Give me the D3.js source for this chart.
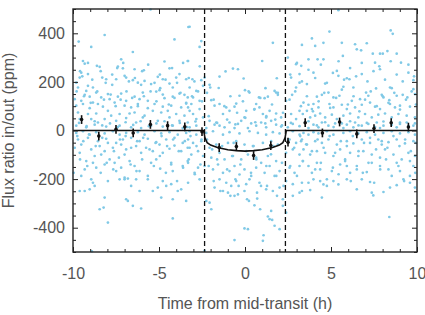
<!DOCTYPE html>
<html>
<head>
<meta charset="utf-8">
<script src="https://cdn.jsdelivr.net/npm/d3@7"></script>
<style>
  body { margin: 0; background: #fff; }
  text { font-family: "Liberation Sans", Arial, sans-serif; }
</style>
</head>
<body>
<div id="chart"></div>
<script>
// individual measurements: [time from mid-transit (h), flux ratio (ppm)]
const scatter = [
  [-5.49,498],[-3.29,426],[-8.16,393],[-9.67,366],[-4.10,375],[-8.94,344],[-6.52,323],[-9.42,286],[-7.20,293],[-4.68,284],
  [-3.33,286],[-9.32,275],[-8.61,266],[-8.45,262],[-7.39,263],[-7.10,256],[-6.42,252],[-5.88,248],[-4.39,256],[-9.52,238],
  [-9.13,232],[-9.61,218],[-7.00,225],[-3.81,232],[-5.07,221],[-8.30,218],[-8.07,211],[-7.49,211],[-6.91,218],[-6.52,207],
  [-6.23,197],[-5.84,204],[-4.78,211],[-4.00,218],[-3.42,211],[-9.81,197],[-9.71,177],[-9.13,184],[-8.84,177],[-7.72,188],
  [-6.04,188],[-5.46,191],[-4.93,174],[-4.39,193],[-4.20,177],[-9.23,163],[-9.32,147],[-9.03,139],[-8.65,156],[-7.97,150],
  [-7.20,152],[-6.42,139],[-5.94,156],[-5.16,160],[-4.97,166],[-3.81,152],[-3.52,147],[-9.90,129],[-9.52,122],[-8.84,115],
  [-8.36,136],[-8.55,109],[-7.87,129],[-7.58,115],[-7.39,139],[-6.91,122],[-6.13,129],[-5.65,122],[-4.68,133],[-4.20,139],
  [-3.33,136],[-9.81,102],[-9.42,109],[-9.03,92],[-8.26,98],[-7.97,81],[-7.00,102],[-6.62,95],[-6.23,109],[-5.65,92],
  [-5.26,109],[-4.78,98],[-4.29,102],[-3.71,95],[-3.42,111],[-9.71,74],[-9.13,68],[-8.65,70],[-7.78,61],[-7.29,68],
  [-6.71,70],[-6.42,74],[-5.84,61],[-5.36,81],[-4.87,74],[-4.49,81],[-4.00,68],[-3.52,61],[-9.61,47],[-8.94,47],
  [-8.55,33],[-8.16,47],[-7.49,40],[-6.91,51],[-6.33,33],[-5.94,54],[-5.07,40],[-4.39,54],[-3.81,40],[-3.33,33],
  [-9.81,20],[-9.23,13],[-8.74,24],[-8.07,16],[-7.29,20],[-6.62,13],[-6.04,10],[-5.46,20],[-4.78,16],[-4.20,20],[-3.62,10],
  [-3.22,427],[-2.54,368],[-2.64,344],[1.62,361],[1.00,286],[-3.31,286],[-0.70,255],[-0.41,252],[-1.13,243],[-1.48,222],
  [-0.08,214],[-3.06,211],[-2.54,207],[-2.35,218],[1.85,215],[2.49,300],[2.97,273],[3.17,232],[2.68,218],[-3.22,177],
  [-2.83,163],[-2.44,184],[-2.06,188],[-2.02,177],[1.19,174],[0.00,166],[0.26,156],[-0.32,143],[0.81,136],[1.14,133],
  [1.33,139],[1.72,163],[1.91,147],[1.81,156],[-3.02,136],[-2.64,122],[-3.12,109],[-3.31,95],[-1.96,125],[-1.48,109],
  [-1.77,102],[-0.51,111],[-0.61,98],[0.65,109],[0.55,88],[0.84,95],[2.39,122],[2.74,147],[2.97,177],[3.17,197],
  [-1.09,95],[-0.90,81],[-1.28,68],[0.07,81],[-0.03,54],[1.04,68],[1.23,54],[1.43,81],[1.81,70],[2.10,54],
  [-3.02,68],[-2.83,47],[-3.22,81],[-2.64,88],[-2.44,54],[-2.06,40],[-1.67,33],[-1.48,20],[-1.77,24],[-0.90,33],
  [-0.41,27],[-0.22,40],[0.36,29],[0.65,20],[0.94,33],[1.52,40],[1.81,24],[2.10,16],[2.68,68],[2.97,47],
  [3.17,81],[2.78,27],[2.49,13],[-3.22,13],[-2.83,20],[-2.25,10],[-1.19,13],[-0.61,10],[0.17,10],[1.23,13],
  [5.43,495],[8.47,412],[8.59,398],[4.91,407],[3.89,379],[4.56,361],[5.63,361],[6.40,355],[7.08,359],[3.31,352],
  [4.08,348],[6.50,334],[6.75,330],[5.69,307],[7.43,316],[7.85,316],[8.01,316],[8.28,327],[8.82,316],[3.69,293],
  [4.22,293],[4.56,293],[7.56,279],[9.07,279],[3.27,266],[3.98,238],[5.34,245],[5.43,225],[5.92,215],[6.07,211],
  [6.79,232],[7.85,252],[9.50,238],[3.60,191],[4.66,193],[5.72,180],[7.62,173],[8.43,177],[8.53,174],[9.79,207],
  [9.79,170],[6.30,177],[7.04,156],[7.17,143],[6.69,129],[6.21,122],[4.18,139],[4.47,147],[4.85,156],[5.14,136],
  [5.49,143],[7.95,147],[8.05,136],[8.39,125],[8.82,143],[9.17,147],[9.44,136],[9.88,150],[3.40,115],[3.69,106],
  [3.98,109],[3.89,88],[4.27,95],[3.60,81],[4.91,109],[5.14,95],[5.63,106],[5.92,88],[6.40,95],[6.79,106],
  [7.27,115],[7.56,98],[7.85,88],[8.43,109],[8.72,95],[9.01,102],[9.59,98],[3.36,68],[3.79,54],[4.08,61],
  [4.37,70],[4.66,54],[5.05,65],[5.34,47],[5.72,61],[6.11,70],[6.59,54],[6.98,68],[7.37,54],[7.75,65],
  [8.14,70],[8.53,54],[8.92,68],[9.40,61],[9.88,54],[3.50,33],[3.98,24],[4.47,33],[4.85,20],[5.24,29],
  [5.92,24],[6.40,33],[6.79,20],[7.17,27],[7.66,33],[8.05,20],[9.01,27],[9.40,33],[9.79,20],[3.69,10],
  [4.27,13],[5.72,10],[6.30,13],[7.85,10],[8.82,13],
  [-9.81,-10],[-9.42,-3],[-9.03,-17],[-8.65,-7],[-8.16,-12],[-7.68,-3],[-7.29,-17],[-6.91,-10],[-6.23,-7],[-5.84,-17],
  [-5.26,-3],[-4.87,-12],[-4.39,-7],[-3.91,-17],[-3.42,-10],[-9.71,-37],[-9.13,-30],[-8.55,-44],[-8.07,-34],[-7.49,-51],
  [-7.10,-37],[-6.62,-30],[-6.13,-44],[-5.65,-34],[-5.16,-48],[-4.58,-37],[-4.10,-30],[-3.62,-51],[-9.90,-71],[-9.52,-58],
  [-9.61,-92],[-8.94,-78],[-8.45,-64],[-8.16,-85],[-8.36,-99],[-7.68,-71],[-7.20,-58],[-6.91,-78],[-7.00,-99],[-6.33,-64],
  [-6.04,-92],[-5.75,-71],[-5.36,-85],[-4.97,-58],[-4.78,-92],[-4.39,-75],[-4.10,-62],[-3.71,-85],[-3.33,-71],[-9.23,-126],
  [-9.32,-160],[-8.84,-133],[-8.65,-153],[-8.16,-140],[-7.87,-119],[-7.58,-133],[-7.49,-167],[-7.20,-153],[-6.71,-126],[-6.42,-146],
  [-6.13,-167],[-5.46,-133],[-5.16,-119],[-4.93,-157],[-4.29,-140],[-4.20,-167],[-3.62,-146],[-3.33,-126],[-9.96,-174],[-9.52,-187],
  [-8.94,-201],[-9.61,-249],[-9.32,-249],[-9.03,-242],[-8.74,-228],[-7.97,-208],[-7.29,-201],[-7.00,-194],[-6.81,-198],[-6.62,-228],
  [-6.33,-201],[-5.65,-201],[-5.36,-249],[-5.07,-235],[-4.78,-208],[-4.58,-228],[-4.29,-221],[-3.91,-249],[-3.71,-242],[-8.84,-215],
  [-8.16,-276],[-6.91,-283],[-6.81,-290],[-6.52,-310],[-6.13,-249],[-4.87,-276],[-4.20,-283],[-3.42,-290],[-8.45,-324],[-8.22,-317],
  [-6.04,-321],[-7.97,-379],[-4.20,-362],[-8.90,-497],
  [-3.22,-3],[-2.83,-17],[-2.25,-10],[-1.86,-3],[-1.28,-17],[-0.90,-7],[-0.32,-12],[0.26,-3],[0.75,-10],[1.23,-17],
  [1.62,-7],[2.01,-12],[2.78,-3],[3.17,-17],[-3.31,-37],[-3.02,-51],[-2.54,-44],[-2.06,-71],[-1.67,-58],[-0.99,-51],
  [-0.51,-44],[-0.03,-58],[0.46,-64],[1.04,-51],[1.52,-44],[1.91,-58],[2.59,-37],[2.97,-51],[3.26,-44],[-3.22,-71],
  [-2.73,-85],[-3.12,-99],[-2.44,-105],[-1.96,-112],[-1.48,-92],[-1.19,-119],[-0.70,-105],[-0.22,-119],[0.17,-99],[0.65,-112],
  [0.94,-133],[1.33,-105],[1.81,-126],[2.39,-92],[2.78,-78],[3.17,-99],[-3.31,-133],[-2.73,-153],[-2.93,-174],[-2.35,-146],
  [-1.86,-160],[-1.57,-140],[-1.28,-174],[-0.90,-167],[-0.61,-146],[-0.32,-181],[-0.03,-160],[0.36,-187],[0.65,-153],[1.14,-174],
  [1.43,-146],[1.72,-187],[2.01,-167],[2.59,-153],[2.88,-174],[3.17,-146],[-1.48,-201],[-1.09,-215],[-1.77,-235],[-0.80,-228],
  [-0.51,-208],[0.07,-221],[0.26,-201],[0.84,-215],[1.23,-242],[2.01,-235],[2.39,-208],[2.78,-221],[-3.31,-215],[-2.64,-201],
  [-1.28,-249],[-0.99,-256],[-0.61,-269],[-0.03,-249],[-0.41,-263],[-2.06,-297],[-1.96,-324],[-2.25,-290],[0.23,-290],[0.71,-280],
  [0.88,-324],[0.55,-308],[1.62,-249],[2.20,-283],[2.78,-269],[3.17,-256],[1.33,-354],[1.43,-365],[1.58,-368],[1.52,-331],
  [2.39,-338],[1.72,-392],[2.01,-406],[2.20,-310],[-0.03,-403],[0.17,-406],[1.08,-431],[1.04,-454],[-0.61,-451],[-2.35,-495],
  [3.40,-10],[3.69,-17],[3.98,-7],[4.27,-12],[4.76,-3],[5.14,-17],[5.72,-10],[6.11,-3],[6.59,-12],[7.08,-7],
  [7.56,-17],[8.05,-10],[8.53,-3],[9.01,-12],[9.50,-7],[9.88,-17],[3.31,-37],[3.60,-58],[4.08,-44],[4.47,-51],
  [4.85,-37],[5.34,-58],[5.92,-44],[6.30,-53],[6.79,-37],[7.27,-51],[7.75,-37],[7.95,-58],[8.34,-48],[8.82,-37],
  [9.30,-53],[9.79,-44],[3.40,-78],[3.79,-99],[4.18,-85],[4.66,-92],[5.14,-105],[5.53,-78],[5.82,-119],[6.11,-92],
  [6.59,-105],[6.88,-85],[7.37,-99],[7.85,-112],[8.14,-78],[8.63,-99],[9.11,-119],[9.50,-92],[9.88,-105],[3.36,-126],
  [3.69,-146],[4.18,-133],[3.89,-174],[4.37,-160],[5.05,-167],[5.53,-140],[5.92,-146],[6.11,-174],[6.50,-160],[7.08,-171],
  [7.37,-133],[7.85,-146],[8.34,-160],[8.82,-133],[9.01,-167],[9.59,-187],[9.79,-146],[3.31,-215],[3.98,-201],[4.37,-208],
  [4.56,-222],[4.76,-228],[5.14,-208],[5.43,-222],[5.92,-201],[6.50,-242],[6.79,-201],[7.27,-212],[7.37,-256],[8.05,-253],
  [8.43,-235],[8.82,-225],[9.21,-201],[9.59,-215],[9.88,-235],[3.31,-249],[3.79,-245],[4.47,-276],[7.46,-267],[8.39,-356],
  // second pass, read from the full view
  [-9.59,244],[-9.46,223],[-9.13,278],[-8.88,209],[-8.39,244],[-8.10,196],[-7.72,230],[-7.43,257],[-7.08,278],[-6.75,202],
  [-6.40,216],[-5.98,244],[-5.63,271],[-5.26,196],[-4.95,230],[-4.62,209],[-4.24,257],[-3.95,196],[-3.60,278],[-3.27,216],
  [-2.94,202],[-2.63,264],
  [-9.79,161],[-9.36,141],[-8.97,114],[-8.59,161],[-8.20,127],[-7.81,148],[-7.52,100],[-7.23,127],[-6.89,161],[-6.56,134],
  [-6.23,100],[-5.88,141],[-5.49,161],[-5.15,120],[-4.78,148],[-4.43,107],[-4.10,134],[-3.75,155],[-3.42,114],[-3.08,141],
  [-2.73,161],[-2.50,120],
  [-9.65,31],[-9.21,18],[-8.74,38],[-8.30,21],[-7.85,29],[-7.39,14],[-6.94,34],[-6.50,23],[-6.07,38],[-5.59,18],
  [-5.15,29],[-4.68,38],[-4.24,21],[-3.79,31],[-3.37,14],[-2.88,37],
  [-9.75,-23],[-9.40,-44],[-9.07,-16],[-8.68,-64],[-8.30,-30],[-7.97,-51],[-7.62,-85],[-7.27,-37],[-6.94,-23],[-6.62,-71],
  [-6.27,-44],[-5.92,-30],[-5.55,-78],[-5.20,-51],[-4.85,-23],[-4.53,-64],[-4.18,-37],[-3.85,-85],[-3.50,-44],[-3.17,-23],
  [-2.82,-64],[-2.53,-37],
  [-9.59,-119],[-9.17,-146],[-8.74,-105],[-8.39,-174],[-8.04,-133],[-7.66,-160],[-7.33,-112],[-7.00,-201],[-6.65,-140],[-6.31,-167],
  [-5.98,-119],[-5.65,-187],[-5.30,-146],[-4.95,-105],[-4.60,-174],[-4.29,-133],[-3.95,-208],[-3.60,-153],[-3.27,-119],[-2.92,-180],
  [-2.59,-140],
  [-2.21,155],[-1.82,127],[-1.53,175],[-1.20,100],[-0.85,141],[-0.46,73],[-0.12,120],[0.21,161],[0.54,86],[0.89,134],
  [1.24,59],[1.57,107],[1.91,155],[2.21,73],[-2.11,59],[-1.62,31],[-1.04,45],[-0.56,25],[0.02,52],[0.60,34],
  [1.18,29],[1.76,45],[2.15,21],
  [-2.21,-37],[-1.91,-78],[-1.62,-119],[-1.33,-64],[-1.04,-160],[-0.75,-105],[-0.56,-201],[-0.27,-140],[0.08,-85],[0.35,-174],
  [0.66,-119],[0.93,-228],[1.24,-146],[1.51,-98],[1.82,-187],[2.15,-133],[-2.11,-146],[-1.82,-208],[-1.43,-249],[-0.85,-269],
  [-0.37,-228],[0.12,-283],[0.70,-256],[1.28,-228],[1.86,-269],[2.24,-228],[-0.66,-51],[0.50,-64],[1.66,-64],
  [2.63,230],[3.02,278],[3.31,202],[3.69,250],[4.08,216],[4.41,271],[4.76,196],[5.11,237],[5.44,285],[5.76,209],
  [6.11,257],[6.46,223],[6.79,278],[7.12,202],[7.47,244],[7.81,264],[8.14,209],[8.47,285],[8.82,230],[9.17,202],
  [9.50,271],[9.83,223],
  [2.59,127],[2.92,161],[3.25,100],[3.60,141],[3.95,79],[4.28,120],[4.61,155],[4.95,93],[5.30,134],[5.63,168],
  [5.98,107],[6.31,141],[6.65,79],[6.98,127],[7.31,161],[7.66,100],[8.01,141],[8.34,114],[8.68,155],[9.01,86],
  [9.36,127],[9.69,161],[9.94,107],
  [2.67,31],[3.17,18],[3.69,38],[4.18,21],[4.66,34],[5.15,14],[5.63,29],[6.11,38],[6.60,21],[7.08,31],
  [7.56,14],[8.05,37],[8.53,23],[9.01,33],[9.50,18],[9.88,29],
  [2.53,-37],[2.86,-71],[3.21,-23],[3.56,-57],[3.89,-85],[4.22,-37],[4.57,-71],[4.92,-23],[5.24,-92],[5.57,-44],
  [5.92,-64],[6.27,-23],[6.60,-85],[6.92,-51],[7.27,-30],[7.62,-78],[7.95,-44],[8.28,-71],[8.63,-23],[8.98,-64],
  [9.31,-37],[9.64,-85],[9.94,-51],
  [2.63,-146],[3.02,-187],[3.37,-126],[3.69,-215],[4.08,-160],[4.41,-133],[4.76,-201],[5.11,-153],[5.44,-180],[5.82,-126],
  [6.15,-208],[6.50,-146],[6.85,-174],[7.18,-133],[7.51,-215],[7.86,-160],[8.20,-119],[8.53,-187],[8.92,-146],[9.25,-208],
  [9.59,-126],[9.90,-174]
];

// binned averages with error bars
const binTime = [-9.5,-8.5,-7.5,-6.5,-5.5,-4.5,-3.5,-2.5,-1.5,-0.5,0.5,1.5,2.5,3.5,4.5,5.5,6.5,7.5,8.5,9.5];
const binFlux = [45,-23,5,-10,25,20,15,-5,-70,-66,-103,-62,-48,32,-10,35,-14,8,32,14];
const binErr  = [18,18,18,18,18,18,18,18,18,18,18,18,18,18,18,18,18,18,18,18];

// transit model
const modelTime = [-10,-2.4,-2.33,-2.2,-2.0,-1.6,-1.0,-0.5,0,0.5,1.0,1.6,2.0,2.2,2.33,2.4,10];
const modelFlux = [0,0,-30,-50,-60,-70,-79,-83,-85,-83,-79,-70,-60,-50,-30,0,0];

const transitEdges = [-2.35, 2.35];
const xTicks = [-10,-5,0,5,10];
const yTicks = [-400,-200,0,200,400];

const margin = {left:73, right:8, top:9, bottom:63},
    width = 425 - margin.left - margin.right,
    height = 315 - margin.top - margin.bottom;

const svg = d3.select("#chart")
    .append("svg")
    .attr("width", 425)
    .attr("height", 315)
    .append("g")
    .attr("transform", "translate(" + margin.left + "," + margin.top + ")");

const x = d3.scaleLinear().domain([-10, 10]).range([0, width]);
const y = d3.scaleLinear().domain([-500, 500]).range([height, 0]);

// scatter
svg.append("g")
    .selectAll("circle")
    .data(scatter)
    .enter().append("circle")
    .attr("cx", d => x(d[0]))
    .attr("cy", d => y(d[1]))
    .attr("r", 1.35)
    .style("fill", "#80c9e6");

// transit edges
svg.selectAll(".edge")
    .data(transitEdges)
    .enter().append("line")
    .attr("x1", d => x(d)).attr("x2", d => x(d))
    .attr("y1", 0).attr("y2", height)
    .style("stroke", "#111")
    .style("stroke-width", 1.3)
    .style("stroke-dasharray", "5,3");

// model
const line = d3.line().x(d => x(d[0])).y(d => y(d[1]));
svg.append("path")
    .datum(d3.zip(modelTime, modelFlux))
    .attr("d", line)
    .style("fill", "none")
    .style("stroke", "#111")
    .style("stroke-width", 1.6);

// bins
const bins = d3.zip(binTime, binFlux, binErr);
svg.append("g").selectAll("line")
    .data(bins)
    .enter().append("line")
    .attr("x1", d => x(d[0])).attr("x2", d => x(d[0]))
    .attr("y1", d => y(d[1] - d[2])).attr("y2", d => y(d[1] + d[2]))
    .style("stroke", "#111")
    .style("stroke-width", 1.6);
svg.append("g").selectAll("circle")
    .data(bins)
    .enter().append("circle")
    .attr("cx", d => x(d[0]))
    .attr("cy", d => y(d[1]))
    .attr("r", 1.8)
    .style("fill", "#111");

// axes, ticks pointing inward on all four sides
function styleAxis(g) {
    g.select(".domain").remove();
    g.selectAll(".tick line").style("stroke", "#222").style("stroke-width", 1);
    g.selectAll(".tick text").style("fill", "#555").style("font-size", "16px");
}
const plain = d => String(d);   // hyphen minus, like the original
const xMinor = d3.range(-10, 11, 1).filter(v => !xTicks.includes(v));
const yMinor = d3.range(-500, 501, 50).filter(v => !yTicks.includes(v));

svg.append("g").attr("transform", "translate(0," + height + ")")
    .call(d3.axisBottom(x).tickValues(xTicks).tickSize(-5).tickPadding(16).tickFormat(plain))
    .call(styleAxis);
svg.append("g").attr("transform", "translate(0," + height + ")")
    .call(d3.axisBottom(x).tickValues(xMinor).tickSize(-3).tickFormat(""))
    .call(styleAxis);
svg.append("g")
    .call(d3.axisTop(x).tickValues(xTicks).tickSize(-5).tickFormat(""))
    .call(styleAxis);
svg.append("g")
    .call(d3.axisTop(x).tickValues(xMinor).tickSize(-3).tickFormat(""))
    .call(styleAxis);
svg.append("g")
    .call(d3.axisLeft(y).tickValues(yTicks).tickSize(-5).tickPadding(8).tickFormat(plain))
    .call(styleAxis);
svg.append("g")
    .call(d3.axisLeft(y).tickValues(yMinor).tickSize(-3).tickFormat(""))
    .call(styleAxis);
svg.append("g").attr("transform", "translate(" + width + ",0)")
    .call(d3.axisRight(y).tickValues(yTicks).tickSize(-5).tickFormat(""))
    .call(styleAxis);
svg.append("g").attr("transform", "translate(" + width + ",0)")
    .call(d3.axisRight(y).tickValues(yMinor).tickSize(-3).tickFormat(""))
    .call(styleAxis);

// frame
svg.append("rect")
    .attr("width", width).attr("height", height)
    .style("fill", "none")
    .style("stroke", "#222")
    .style("stroke-width", 1.4);

// axis titles
svg.append("text")
    .attr("x", width / 2)
    .attr("y", height + 57)
    .attr("text-anchor", "middle")
    .style("fill", "#555")
    .style("font-size", "16px")
    .text("Time from mid-transit (h)");

svg.append("text")
    .attr("transform", "rotate(-90)")
    .attr("x", -height / 2)
    .attr("y", -59)
    .attr("text-anchor", "middle")
    .style("fill", "#555")
    .style("font-size", "16px")
    .text("Flux ratio in/out (ppm)");
</script>
</body>
</html>
